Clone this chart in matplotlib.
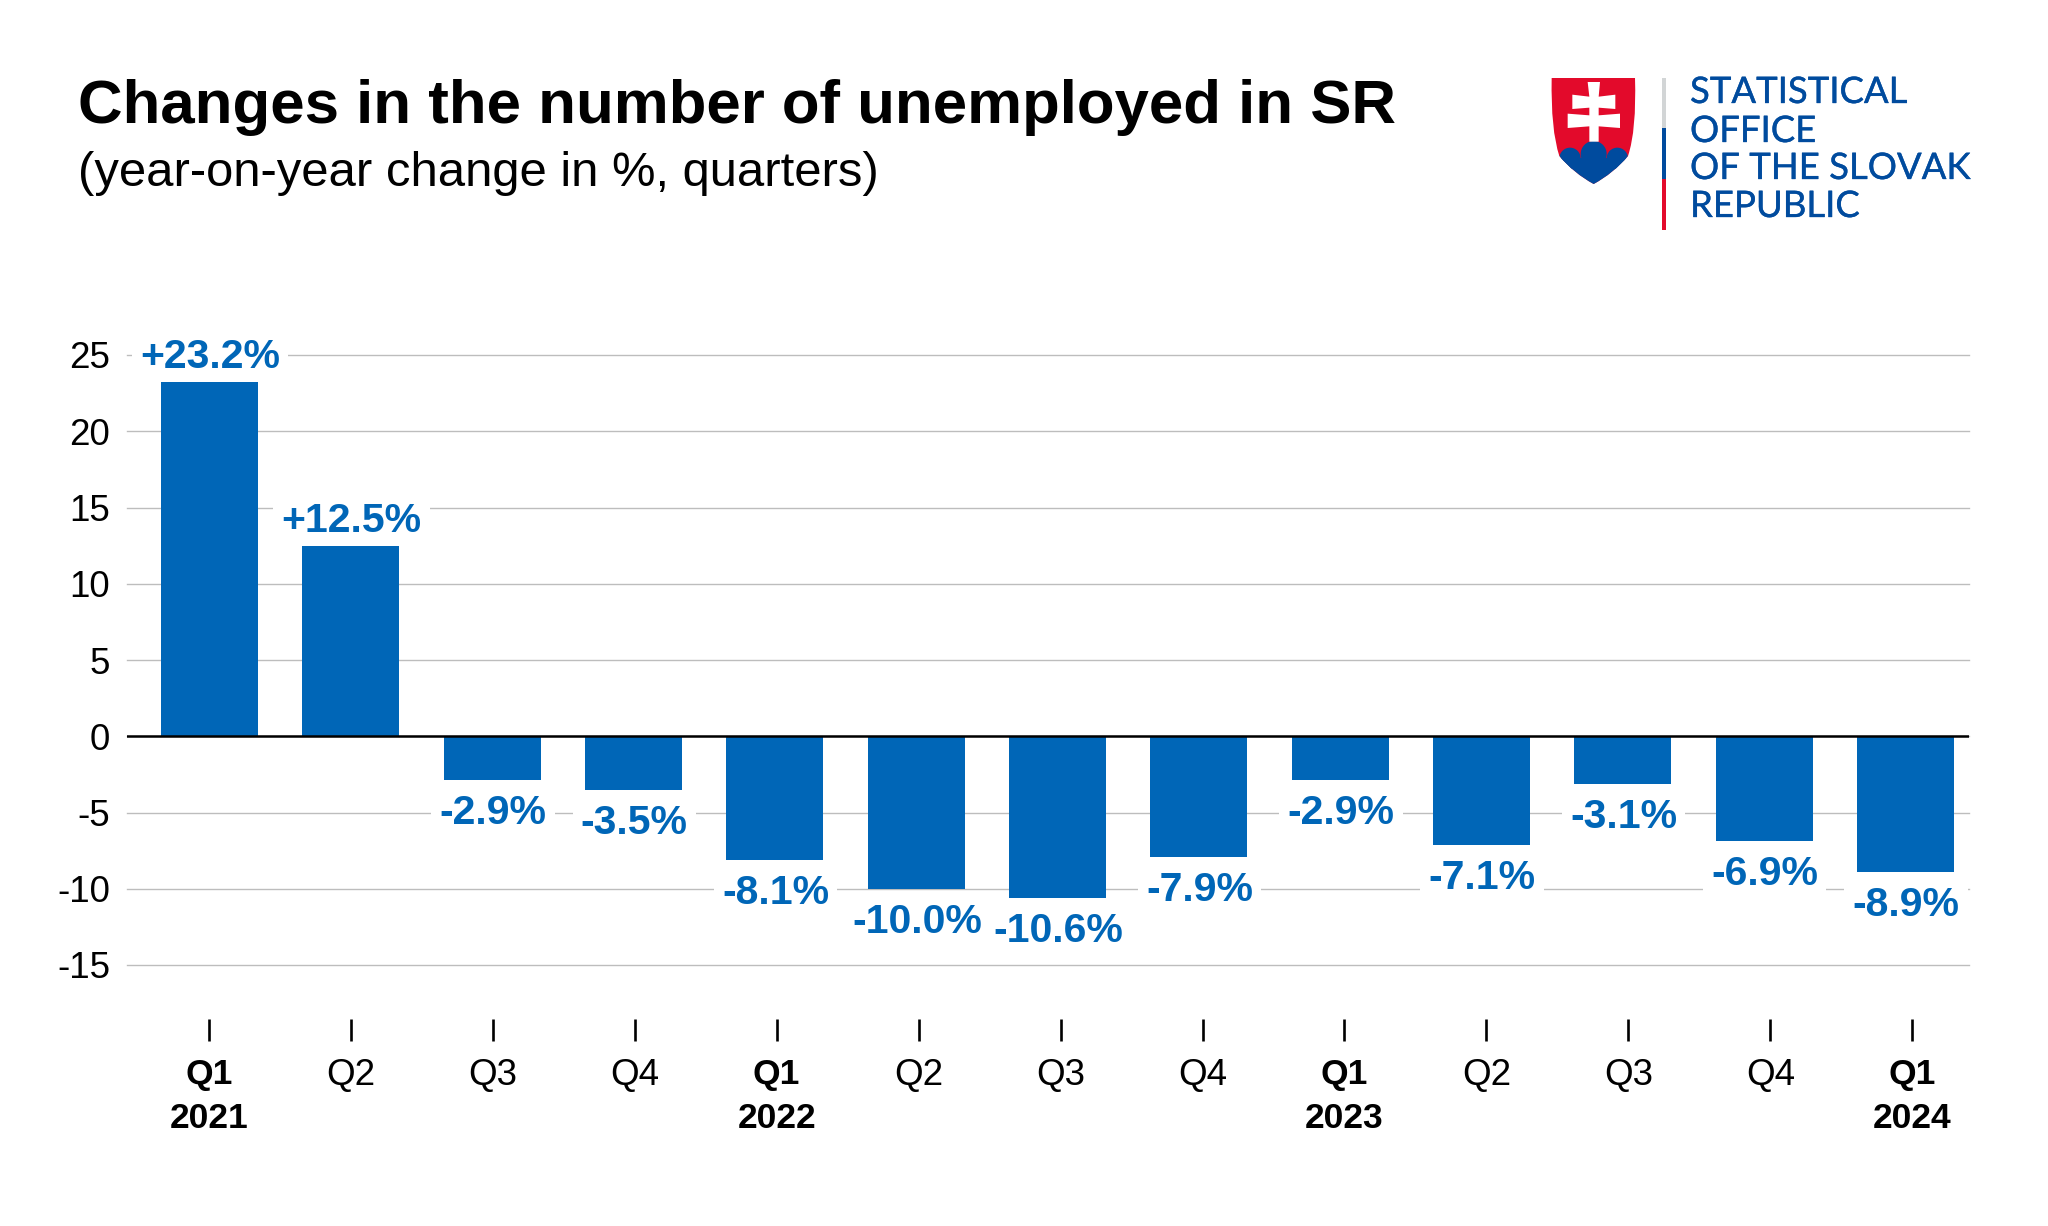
import matplotlib
matplotlib.use("Agg")
import matplotlib.pyplot as plt
import matplotlib.patheffects as pe
from matplotlib.patches import Polygon, PathPatch, Rectangle, Circle
from matplotlib.path import Path

plt.rcParams['font.family'] = ['Liberation Sans', 'DejaVu Sans']
plt.rcParams['axes.unicode_minus'] = False

quarters = ['Q1', 'Q2', 'Q3', 'Q4', 'Q1', 'Q2', 'Q3', 'Q4', 'Q1', 'Q2', 'Q3', 'Q4', 'Q1']
years = ['2021', '', '', '', '2022', '', '', '', '2023', '', '', '', '2024']
values = [23.2, 12.5, -2.9, -3.5, -8.1, -10.0, -10.6, -7.9, -2.9, -7.1, -3.1, -6.9, -8.9]
labels = ['+23.2%', '+12.5%', '-2.9%', '-3.5%', '-8.1%', '-10.0%', '-10.6%', '-7.9%',
          '-2.9%', '-7.1%', '-3.1%', '-6.9%', '-8.9%']
y_ticks = [25, 20, 15, 10, 5, 0, -5, -10, -15]

BLUE = '#0066B7'
W, H = 2048, 1226
fig = plt.figure(figsize=(W / 100, H / 100), dpi=100, facecolor='white')

L, R, T, B = 127, 1969, 355, 965
ax = fig.add_axes([L / W, 1 - B / H, (R - L) / W, (B - T) / H])
x = list(range(len(values)))
tick_x = [i * 1.0045 - 0.005 for i in x]  # the reference's ticks run slightly wider than its bars
ax.set_xlim(-0.584, 12.45)
ax.set_ylim(-15, 25)
ax.set_axisbelow(True)
ax.yaxis.grid(True, color='#BDBDBD', lw=1.0)
ax.xaxis.grid(False)
ax.bar(x, values, width=0.687, color=BLUE, zorder=2)
ax.axhline(0, color='black', lw=1.8, zorder=4)

for s in ['left', 'right', 'top']:
    ax.spines[s].set_visible(False)
ax.spines['bottom'].set_position(('outward', 54 * 0.72))
ax.spines['bottom'].set_visible(False)

ax.set_yticks(y_ticks)
ax.tick_params(axis='y', length=0, pad=12, labelsize=26.5, labelcolor='black')
for gl in ax.get_ygridlines():
    gl.set_clip_on(False)
ax.set_xticks(tick_x)
ax.set_xticklabels([q if not y else f'{q}\n{y}' for q, y in zip(quarters, years)])
ax.tick_params(axis='x', length=22 * 0.72, width=1.9, color='black', pad=12,
               labelsize=26.5, labelcolor='black')
for tl, y in zip(ax.get_xticklabels(), years):
    tl.set_linespacing(1.45)
    tl.set_verticalalignment('top')
    if y:
        tl.set_fontweight('bold')
        tl.set_fontsize(25.5)

for xi, v, lab in zip(x, values, labels):
    off = 29 if v > 0 else -29
    ax.annotate(lab, (xi + 0.005, v), xytext=(0, off * 0.72), textcoords='offset points',
                ha='center', va='center_baseline', fontsize=29.5, fontweight='bold', color=BLUE,
                bbox=dict(facecolor='white', edgecolor='none', pad=6), zorder=1.5)

# Title block and logo, drawn in figure pixel coordinates
ov = fig.add_axes([0, 0, 1, 1], zorder=5)
ov.set_xlim(0, W)
ov.set_ylim(H, 0)
ov.axis('off')
ov.patch.set_alpha(0)

ov.text(78, 123, 'Changes in the number of unemployed in SR', fontsize=44.48, fontweight='bold',
        color='black', ha='left', va='baseline')
ov.text(78, 186, '(year-on-year change in %, quarters)', fontsize=35.25, color='black',
        ha='left', va='baseline')


def z(px, py):
    return 1500 + px / 3, 50 + py / 3


M, C3 = Path.MOVETO, Path.CURVE3
LN = Path.LINETO
shield = Path([z(155, 84), z(405, 84), z(410, 240), z(384, 318), z(340, 370), z(281, 402),
               z(222, 370), z(178, 318), z(152, 240), z(155, 84), z(155, 84)],
              [M, LN, C3, C3, C3, C3, C3, C3, C3, C3, Path.CLOSEPOLY])
red = PathPatch(shield, facecolor='#E30A2B', edgecolor='none')
ov.add_patch(red)
NAVY = '#004B9E'
for (cx, cy, r) in [(210, 325, 32), (281, 312, 39), (352, 325, 32)]:
    c = Circle(z(cx, cy), r / 3, facecolor=NAVY, edgecolor='none')
    ov.add_patch(c)
    c.set_clip_path(red)
base = Polygon([z(150, 325), z(412, 325), z(412, 410), z(150, 410)], closed=True,
               facecolor=NAVY, edgecolor='none')
ov.add_patch(base)
base.set_clip_path(red)
cross = [(263, 96), (300, 96), (296, 140), (346, 134), (346, 177), (296, 173), (296, 196),
         (360, 191), (360, 234), (296, 229), (296, 275), (268, 275), (268, 229), (203, 234),
         (203, 191), (268, 196), (268, 173), (217, 177), (217, 134), (268, 140)]
ov.add_patch(Polygon([z(*p) for p in cross], closed=True, facecolor='white', edgecolor='none'))

ov.add_patch(Rectangle((1662, 78), 4, 50, facecolor='#D2D5D6', edgecolor='none'))
ov.add_patch(Rectangle((1662, 128), 4, 51, facecolor=NAVY, edgecolor='none'))
ov.add_patch(Rectangle((1662, 179), 4, 51, facecolor='#E30A2B', edgecolor='none'))
for line, by in zip(['STATISTICAL', 'OFFICE', 'OF THE SLOVAK', 'REPUBLIC'], [103, 142, 179, 217]):
    ov.text(1690, by, line, fontsize=26.3, family='Lato', color=NAVY, ha='left', va='baseline',
            path_effects=[pe.withStroke(linewidth=0.25, foreground=NAVY)])

fig.savefig('out.png', dpi=100, facecolor='white')
